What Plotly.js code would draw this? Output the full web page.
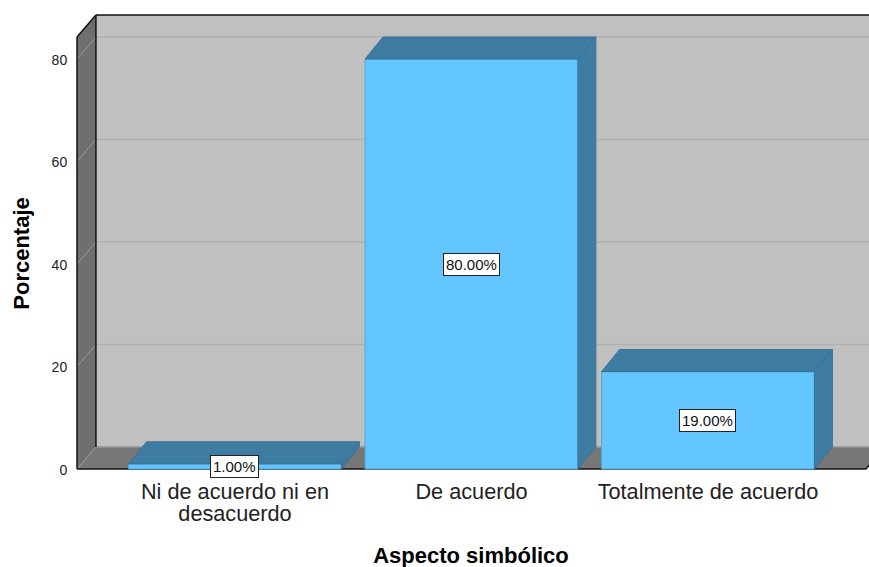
<!DOCTYPE html>
<html><head><meta charset="utf-8">
<script src="https://cdn.plot.ly/plotly-3.0.1.min.js"></script>
<style>html,body{margin:0;padding:0;background:#fff;overflow:hidden}</style>
</head><body><div id="chart" style="width:869px;height:567px"></div>
<script>
const categories = ["Ni de acuerdo ni en<br>desacuerdo", "De acuerdo", "Totalmente de acuerdo"];
const percentages = [1, 80, 19];
const valueLabels = ["1.00%", "80.00%", "19.00%"];
const yTicks = [0, 20, 40, 60, 80];
const positions = [0, 1, 2];

const barWidth = 0.9, depthX = 0.08, barDepthX = 0.076, depthY = 4.3;
const wallL = -0.668, wallR = 2.668, wallTop = 84.3;
const FRONT = '#63C6FF', SHADE = '#3F7CA1', EDGE = '#3B7296';
const font = 'Liberation Sans, Arial, sans-serif';

const path = pts => 'M' + pts.map(p => p[0] + ' ' + p[1]).join(' L') + ' Z';
const shape = (pts, fill) => ({type:'path', layer:'below', xref:'x', yref:'y', path:path(pts),
  fillcolor:fill, line:{color:'rgba(0,0,0,0)', width:0}});
const seg = (a, b, color, w) => ({type:'line', layer:'below', xref:'x', yref:'y',
  x0:a[0], y0:a[1], x1:b[0], y1:b[1], line:{color, width:w}});

const bx = wallL + depthX, far = 3;
const shapes = [
  shape([[bx,depthY],[bx,wallTop+depthY],[far,wallTop+depthY],[far,depthY]], '#C0C0C0'),
  shape([[wallL,0],[wallL,wallTop],[bx,wallTop+depthY],[bx,depthY]], '#6F6F6F'),
  shape([[wallL,0],[bx,depthY],[far,depthY],[wallR+depthX,depthY],[wallR,0]], '#777777'),
  shape([[wallR,0],[wallR+depthX,depthY],[far,depthY],[far,0]], '#FFFFFF'),
];
yTicks.forEach(t => {
  if (t > 0) shapes.push(seg([bx,t+depthY],[far,t+depthY],'#B0B0B0',1.5));
  shapes.push(seg([wallL,t],[bx,t+depthY],'#9A9A9A',1));
});
shapes.push(seg([bx,depthY],[far,depthY],'#959595',1.5));
shapes.push(seg([wallL,0],[wallL,wallTop],'#111',1.5));
shapes.push(seg([wallL,wallTop],[bx,wallTop+depthY],'#111',1.5));
shapes.push(seg([bx,depthY],[bx,wallTop+depthY],'#111',1.5));
shapes.push(seg([bx,wallTop+depthY],[far,wallTop+depthY],'#111',1.5));
shapes.push(seg([wallL,0],[wallR,0],'#111',1.5));
shapes.push(seg([wallR,0],[wallR+depthX,depthY],'#111',1.5));

const traces = [];
traces.push({type:'bar', x:positions, y:percentages, width:barWidth, hoverinfo:'skip',
  marker:{color:FRONT, line:{color:'#4FA6D8', width:1}}});
positions.forEach((p,i) => {
  const l = p-barWidth/2, r = p+barWidth/2, v = percentages[i];
  traces.push({type:'scatter', mode:'lines', fill:'toself', fillcolor:SHADE, hoverinfo:'skip',
    line:{color:EDGE, width:1},
    x:[l, l+barDepthX, r+barDepthX, r, l], y:[v, v+depthY, v+depthY, v, v]});
  traces.push({type:'scatter', mode:'lines', fill:'toself', fillcolor:SHADE, hoverinfo:'skip',
    line:{color:EDGE, width:1},
    x:[r, r+barDepthX, r+barDepthX, r, r], y:[v, v+depthY, depthY, 0, v]});
});

const annotations = positions.map((p,i) => ({
  x:p, y:percentages[i]/2, xref:'x', yref:'y', text:valueLabels[i], showarrow:false,
  bgcolor:'#fff', bordercolor:'#222', borderwidth:1, borderpad:2,
  font:{family:font, size:15, color:'#111'}
}));

Plotly.newPlot('chart', traces, {
  width:869, height:567, showlegend:false, paper_bgcolor:'#fff', plot_bgcolor:'#fff',
  margin:{l:75, r:0, t:13, b:95},
  xaxis:{range:[-0.6765,2.6808], tickvals:positions, ticktext:categories, showgrid:false, zeroline:false,
    showline:false, ticks:'outside', ticklen:0, tickcolor:'rgba(0,0,0,0)',
    tickfont:{family:font, size:21.7, color:'#222'},
    title:{text:'<b>Aspecto simbólico</b>', standoff:25, font:{family:font, size:22, color:'#000'}}},
  yaxis:{range:[-0.585,88.98], tickvals:yTicks, showgrid:false, zeroline:false, showline:false,
    ticks:'outside', ticklen:4, tickcolor:'rgba(0,0,0,0)',
    tickfont:{family:font, size:14, color:'#222'},
    title:{text:'<b>Porcentaje</b>', standoff:15, font:{family:font, size:22, color:'#000'}}},
  shapes, annotations
}, {displayModeBar:false, staticPlot:true}).then(gd => {
  // tighter line spacing for the wrapped label, as in the reference
  gd.querySelectorAll('.xtick text').forEach(t => {
    const lines = t.querySelectorAll('tspan.line');
    if (lines.length > 1) lines[1].setAttribute('dy', '22');
  });
  // the reference centres the value-axis title on the front face, not on the whole plot
  const yt = gd.querySelector('.ytitle');
  if (yt) yt.setAttribute('transform', 'translate(0,11) ' + (yt.getAttribute('transform') || ''));
  const xt = gd.querySelector('.xtitle');
  if (xt) xt.setAttribute('transform', 'translate(-1,1) ' + (xt.getAttribute('transform') || ''));
  gd.querySelectorAll('.ytick text').forEach(t => t.setAttribute('dy', '1'));
});
</script></body></html>
